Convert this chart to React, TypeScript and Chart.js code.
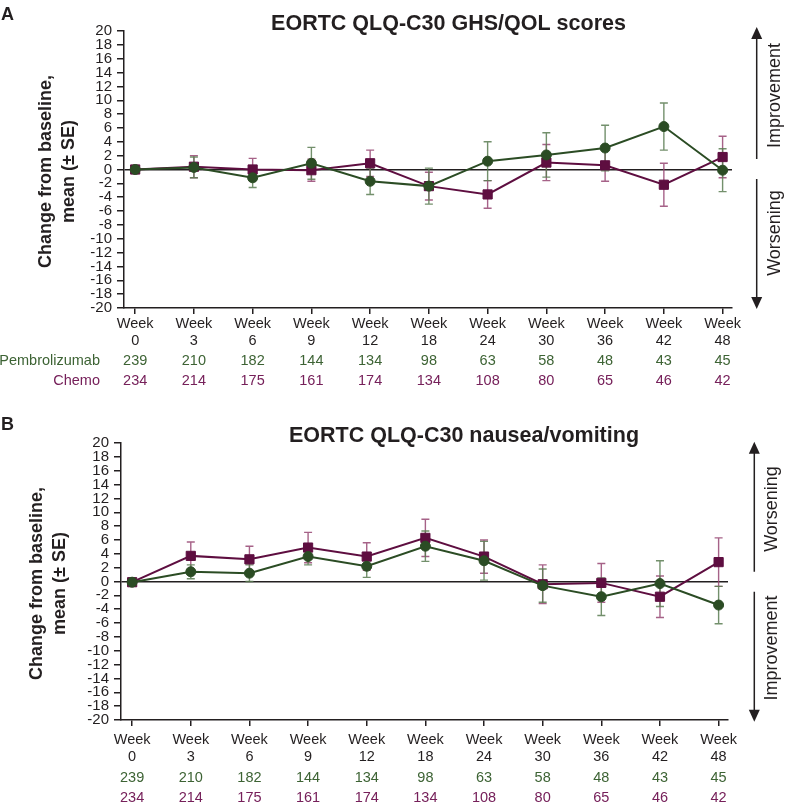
import React, { useEffect, useRef } from 'react';
import { Chart, registerables } from 'chart.js';
Chart.register(...registerables);

// ---------- data ----------
const weeks = ['0', '3', '6', '9', '12', '18', '24', '30', '36', '42', '48'];
const nPembro = [239, 210, 182, 144, 134, 98, 63, 58, 48, 43, 45];
const nChemo = [234, 214, 175, 161, 174, 134, 108, 80, 65, 46, 42];
const yTickValues = [20, 18, 16, 14, 12, 10, 8, 6, 4, 2, 0, -2, -4, -6, -8, -10, -12, -14, -16, -18, -20];

// Panel A: GHS/QOL
const ghsPembro = [0, 0.3, -1.2, 0.9, -1.7, -2.4, 1.2, 2.1, 3.1, 6.2, -0.1];
const ghsPembroSE = [0, 1.5, 1.4, 2.3, 1.9, 2.6, 2.8, 3.2, 3.3, 3.4, 3.1];
const ghsChemo = [0, 0.4, 0, -0.1, 0.9, -2.4, -3.6, 1.0, 0.6, -2.2, 1.8];
const ghsChemoSE = [0, 1.6, 1.6, 1.6, 1.9, 2.0, 2.0, 2.6, 2.3, 3.1, 3.0];

// Panel B: nausea/vomiting
const nvPembro = [-0.1, 1.4, 1.2, 3.6, 2.2, 5.1, 3.0, -0.6, -2.2, -0.3, -3.4];
const nvPembroSE = [0, 1.0, 1.2, 1.2, 1.6, 2.2, 2.8, 2.4, 2.7, 3.3, 2.7];
const nvChemo = [-0.1, 3.7, 3.2, 4.9, 3.6, 6.3, 3.6, -0.4, -0.2, -2.2, 2.8];
const nvChemoSE = [0, 2.0, 1.9, 2.2, 2.0, 2.7, 2.4, 2.8, 2.8, 3.0, 3.5];

// ---------- styles ----------
const FONT = '"Liberation Sans", Arial, Helvetica, sans-serif';
const INK = '#231f20';
const GREEN = '#2b4c24';
const PURPLE = '#5e0e40';
const GREEN_ERR = 'rgba(90,125,82,0.85)';
const PURPLE_ERR = 'rgba(150,70,115,0.85)';
const GREEN_TXT = '#3d6334';
const PURPLE_TXT = '#76205a';

type Cfg = {
  top: number; height: number;
  chartTop: number; chartBottom: number; left: number; right: number;
  letter: string; letterBase: number;
  title: string; titleX: number; titleY: number;
  yTitleX: [number, number];
  tickPad: number;
  countY: [number, number];
  rowLabels: boolean;
  arrowX: number; textX: number;
  upTip: number; upStart: number; downStart: number; downTip: number;
  upText: string; upTextY: number; downText: string; downTextY: number;
  pem: number[]; pemSE: number[]; che: number[]; cheSE: number[];
};

const panelA: Cfg = {
  top: 0, height: 392,
  chartTop: 31, chartBottom: 308, left: 124, right: 732,
  letter: 'A', letterBase: 19.5,
  title: 'EORTC QLQ-C30 GHS/QOL scores', titleX: 448.5, titleY: 24,
  yTitleX: [46, 69],
  tickPad: 2,
  countY: [361, 381],
  rowLabels: true,
  arrowX: 756.7, textX: 775,
  upTip: 27, upStart: 159, downStart: 179, downTip: 309,
  upText: 'Improvement', upTextY: 95.5, downText: 'Worsening', downTextY: 233,
  pem: ghsPembro, pemSE: ghsPembroSE, che: ghsChemo, cheSE: ghsChemoSE,
};

const panelB: Cfg = {
  top: 392, height: 416,
  chartTop: 51, chartBottom: 328, left: 121, right: 728,
  letter: 'B', letterBase: 38,
  title: 'EORTC QLQ-C30 nausea/vomiting', titleX: 464, titleY: 44,
  yTitleX: [37.5, 60.5],
  tickPad: 5.5,
  countY: [385.5, 406],
  rowLabels: false,
  arrowX: 754.3, textX: 771.7,
  upTip: 49.7, upStart: 179.7, downStart: 199.7, downTip: 329.7,
  upText: 'Worsening', upTextY: 117, downText: 'Improvement', downTextY: 256,
  pem: nvPembro, pemSE: nvPembroSE, che: nvChemo, cheSE: nvChemoSE,
};

function Panel({ cfg }: { cfg: Cfg }) {
  const ref = useRef<HTMLCanvasElement>(null);
  useEffect(() => {
    const canvas = ref.current!;
    const W = 787;

    const extras = {
      id: 'extras',
      beforeDatasetsDraw(chart: any) {
        const ctx = chart.ctx as CanvasRenderingContext2D;
        const xs = chart.scales.x, ys = chart.scales.y;
        const series: [number[], number[], string][] = [
          [cfg.che, cfg.cheSE, PURPLE_ERR],
          [cfg.pem, cfg.pemSE, GREEN_ERR],
        ];
        ctx.save();
        ctx.lineWidth = 1.4;
        for (const [vals, se, col] of series) {
          ctx.strokeStyle = col;
          vals.forEach((v, i) => {
            if (!se[i]) return;
            const x = xs.getPixelForValue(i);
            const y1 = ys.getPixelForValue(v + se[i]);
            const y2 = ys.getPixelForValue(v - se[i]);
            ctx.beginPath();
            ctx.moveTo(x, y1); ctx.lineTo(x, y2);
            ctx.moveTo(x - 4, y1); ctx.lineTo(x + 4, y1);
            ctx.moveTo(x - 4, y2); ctx.lineTo(x + 4, y2);
            ctx.stroke();
          });
        }
        ctx.restore();
      },
      afterDraw(chart: any) {
        const ctx = chart.ctx as CanvasRenderingContext2D;
        const xs = chart.scales.x;
        ctx.save();
        ctx.fillStyle = INK;
        // panel letter
        ctx.font = `bold 18px ${FONT}`;
        ctx.textAlign = 'left';
        ctx.textBaseline = 'alphabetic';
        ctx.fillText(cfg.letter, 1, cfg.letterBase);
        // title
        ctx.font = `bold 21.5px ${FONT}`;
        ctx.textAlign = 'center';
        ctx.textBaseline = 'middle';
        ctx.fillText(cfg.title, cfg.titleX, cfg.titleY);
        // y title
        const yc = (chart.chartArea.top + chart.chartArea.bottom) / 2 + 2;
        ctx.font = `bold 18px ${FONT}`;
        ['Change from baseline,', 'mean (\u00b1 SE)'].forEach((t, k) => {
          ctx.save();
          ctx.translate(cfg.yTitleX[k], yc);
          ctx.rotate(-Math.PI / 2);
          ctx.fillText(t, 0, 0);
          ctx.restore();
        });
        // arrows
        ctx.strokeStyle = INK;
        ctx.lineWidth = 1.5;
        const head = (tip: number, dir: number) => {
          ctx.beginPath();
          ctx.moveTo(cfg.arrowX, tip);
          ctx.lineTo(cfg.arrowX - 5.5, tip + dir * 12);
          ctx.lineTo(cfg.arrowX + 5.5, tip + dir * 12);
          ctx.closePath();
          ctx.fill();
        };
        ctx.beginPath();
        ctx.moveTo(cfg.arrowX, cfg.upStart); ctx.lineTo(cfg.arrowX, cfg.upTip + 8);
        ctx.moveTo(cfg.arrowX, cfg.downStart); ctx.lineTo(cfg.arrowX, cfg.downTip - 8);
        ctx.stroke();
        head(cfg.upTip, 1);
        head(cfg.downTip, -1);
        ctx.font = `18px ${FONT}`;
        [[cfg.upText, cfg.upTextY], [cfg.downText, cfg.downTextY]].forEach(([t, y]) => {
          ctx.save();
          ctx.translate(cfg.textX, y as number);
          ctx.rotate(-Math.PI / 2);
          ctx.fillText(t as string, 0, 0);
          ctx.restore();
        });
        // counts
        ctx.font = `14.5px ${FONT}`;
        ctx.textAlign = 'center';
        nPembro.forEach((n, i) => {
          ctx.fillStyle = GREEN_TXT;
          ctx.fillText(String(n), xs.getPixelForValue(i), cfg.countY[0]);
        });
        nChemo.forEach((n, i) => {
          ctx.fillStyle = PURPLE_TXT;
          ctx.fillText(String(n), xs.getPixelForValue(i), cfg.countY[1]);
        });
        if (cfg.rowLabels) {
          ctx.textAlign = 'right';
          ctx.fillStyle = GREEN_TXT;
          ctx.fillText('Pembrolizumab', 100, cfg.countY[0]);
          ctx.fillStyle = PURPLE_TXT;
          ctx.fillText('Chemo', 100, cfg.countY[1]);
        }
        ctx.restore();
      },
    };

    const chart = new Chart(canvas, {
      type: 'line',
      data: {
        datasets: [
          {
            label: 'Pembrolizumab',
            data: cfg.pem.map((v, i) => ({ x: i, y: v })),
            borderColor: GREEN, backgroundColor: GREEN,
            pointStyle: 'circle', pointRadius: 5, pointBorderWidth: 1,
            borderWidth: 2, tension: 0,
          },
          {
            label: 'Chemo',
            data: cfg.che.map((v, i) => ({ x: i, y: v })),
            borderColor: PURPLE, backgroundColor: PURPLE,
            pointStyle: 'rect', pointRadius: 6.5, pointBorderWidth: 1,
            borderWidth: 2, tension: 0,
          },
        ],
      } as any,
      options: {
        responsive: false,
        animation: false,
        devicePixelRatio: 1,
        layout: { padding: { top: cfg.chartTop, right: W - cfg.right, bottom: 0, left: 0 } },
        plugins: { legend: { display: false }, title: { display: false }, tooltip: { enabled: false } },
        scales: {
          x: {
            type: 'linear', min: -0.19, max: 10.16,
            afterBuildTicks: (s: any) => { s.ticks = weeks.map((_, i) => ({ value: i })); },
            afterFit: (s: any) => { s.height = cfg.height - cfg.chartBottom; },
            ticks: {
              autoSkip: false, maxRotation: 0, minRotation: 0,
              font: { family: FONT, size: 14.5, lineHeight: 1.17 }, color: INK,
              padding: cfg.tickPad,
              callback: (v: any) => ['Week', weeks[Math.round(Number(v))]],
            },
            grid: { display: true, drawOnChartArea: false, drawTicks: true, tickLength: 6, color: INK, lineWidth: 1.5 },
            border: { display: true, color: INK, width: 1.5 },
          },
          y: {
            type: 'linear', min: -20, max: 20,
            afterBuildTicks: (s: any) => { s.ticks = yTickValues.map((v) => ({ value: v })); },
            afterFit: (s: any) => { s.width = cfg.left; },
            ticks: {
              autoSkip: false, font: { family: FONT, size: 15 }, color: INK, padding: 5,
              callback: (v: any) => String(v),
            },
            grid: {
              display: true, drawOnChartArea: true, drawTicks: true, tickLength: 7,
              color: (c: any) => (c.tick && c.tick.value === 0 ? INK : 'rgba(0,0,0,0)'),
              tickColor: INK, lineWidth: 1.5,
            },
            border: { display: true, color: INK, width: 1.5 },
          },
        },
      } as any,
      plugins: [extras],
    });
    return () => chart.destroy();
  }, [cfg]);
  return (
    <canvas
      ref={ref}
      width={787}
      height={cfg.height}
      style={{ position: 'absolute', left: 0, top: cfg.top, width: 787, height: cfg.height, display: 'block' }}
    />
  );
}

export default function App() {
  return (
    <div style={{ position: 'absolute', left: 0, top: 0, width: 787, height: 808, background: '#fff' }}>
      <Panel cfg={panelA} />
      <Panel cfg={panelB} />
    </div>
  );
}
